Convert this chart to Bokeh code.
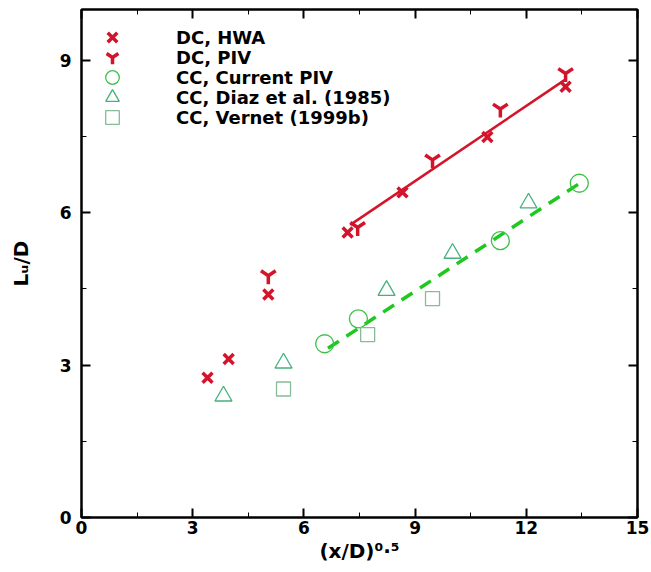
from bokeh.plotting import figure
from bokeh.models import (Range1d, SingleIntervalTicker, LinearAxis, Legend, LegendItem)
from bokeh.embed import file_html
from bokeh.resources import INLINE

# ---------------- data ----------------
dc_hwa_x = [3.40, 3.97, 5.04, 7.18, 8.66, 10.95, 13.06]
dc_hwa_y = [2.75, 3.12, 4.39, 5.61, 6.40, 7.49, 8.48]

dc_piv_x = [5.04, 7.45, 9.47, 11.30, 13.06]
dc_piv_y = [4.76, 5.71, 7.04, 8.04, 8.74]

cc_piv_x = [6.56, 7.47, 11.30, 13.43]
cc_piv_y = [3.42, 3.91, 5.45, 6.58]

cc_diaz_x = [3.83, 5.45, 8.23, 10.01, 12.06]
cc_diaz_y = [2.39, 3.04, 4.47, 5.20, 6.19]

cc_vernet_x = [5.45, 7.72, 9.47]
cc_vernet_y = [2.53, 3.60, 4.31]

dc_fit_x = [7.25, 13.05]
dc_fit_y = [5.76, 8.62]

cc_fit_x = [6.65, 13.40]
cc_fit_y = [3.33, 6.56]

labels = ["DC, HWA", "DC, PIV", "CC, Current PIV", "CC, Diaz et al. (1985)", "CC, Vernet (1999b)"]
x_title = "(x/D)\u2070\u00b7\u2075"
y_title = "L\u1d64/D"

# ---------------- style ----------------
FONT = "DejaVu Sans"
RED = "#d3142a"
GREEN_LINE = "#1ec81e"
GREEN_CIRC = "#3cc04a"
GREEN_TRI = "#45b07e"
GREEN_SQ = "#86bc98"

p = figure(width=651, height=572, output_backend="svg", toolbar_location=None,
           x_range=Range1d(0, 15), y_range=Range1d(0, 10),
           min_border_left=81, min_border_right=14, min_border_top=9, min_border_bottom=55)

p.background_fill_color = "white"
p.border_fill_color = "white"
p.grid.visible = False
p.outline_line_color = "black"
p.outline_line_width = 2

for ax in (p.xaxis[0], p.yaxis[0]):
    ax.ticker = SingleIntervalTicker(interval=3, num_minor_ticks=2)
    ax.axis_line_color = "black"
    ax.axis_line_width = 2
    ax.major_tick_in = 9
    ax.major_tick_out = 0
    ax.minor_tick_in = 5
    ax.minor_tick_out = 0
    ax.major_tick_line_width = 2
    ax.minor_tick_line_width = 1
    ax.major_label_text_font = FONT
    ax.major_label_text_font_style = "bold"
    ax.major_label_text_font_size = "17px"
    ax.major_label_text_color = "black"
    ax.axis_label_text_font = FONT
    ax.axis_label_text_font_style = "bold"
    ax.axis_label_text_font_size = "20px"
    ax.axis_label_text_color = "black"
p.xaxis.major_label_standoff = 3
p.yaxis.major_label_standoff = 10
p.xaxis.axis_label = x_title
p.yaxis.axis_label = y_title
p.xaxis.axis_label_standoff = 2
p.yaxis.axis_label_standoff = 24

for loc in ("above", "right"):
    ax = LinearAxis(ticker=SingleIntervalTicker(interval=3, num_minor_ticks=2),
                    major_label_text_font_size="1px", major_label_text_color=None,
                    major_label_standoff=0,
                    major_tick_in=9, major_tick_out=0, minor_tick_in=5, minor_tick_out=0,
                    major_tick_line_width=2, axis_line_width=2)
    p.add_layout(ax, loc)

# fit lines
p.line(dc_fit_x, dc_fit_y, line_color=RED, line_width=2.5)
p.line(cc_fit_x, cc_fit_y, line_color=GREEN_LINE, line_width=3.5, line_dash="13 9")

r_hwa = p.scatter(dc_hwa_x, dc_hwa_y, marker="x", size=14, line_color=RED, line_width=3.5)
r_piv = p.scatter(dc_piv_x, dc_piv_y, marker="y", size=17, line_color=RED, line_width=3.5)
r_cpiv = p.scatter(cc_piv_x, cc_piv_y, marker="circle", size=18, fill_color=None,
                   line_color=GREEN_CIRC, line_width=1.3)
r_diaz = p.scatter(cc_diaz_x, cc_diaz_y, marker="triangle", size=17, fill_color=None,
                   line_color=GREEN_TRI, line_width=1.3)
r_vern = p.scatter(cc_vernet_x, cc_vernet_y, marker="square", size=14, fill_color=None,
                   line_color=GREEN_SQ, line_width=1.3)

# legend: one entry per Legend so rows can sit closer than the glyph box
renderers = [r_hwa, r_piv, r_cpiv, r_diaz, r_vern]
for i, (lab, r) in enumerate(zip(labels, renderers)):
    leg = Legend(items=[LegendItem(label=lab, renderers=[r])],
                 location=(14, 463 - 20 * i), border_line_color=None, background_fill_alpha=0,
                 label_text_font=FONT, label_text_font_style="bold", label_text_font_size="18px",
                 label_text_color="black",
                 glyph_width=34, glyph_height=34, label_height=34, label_standoff=47,
                 spacing=0, margin=0, padding=0)
    p.add_layout(leg)

open("out.html", "w").write(file_html(p, INLINE))
